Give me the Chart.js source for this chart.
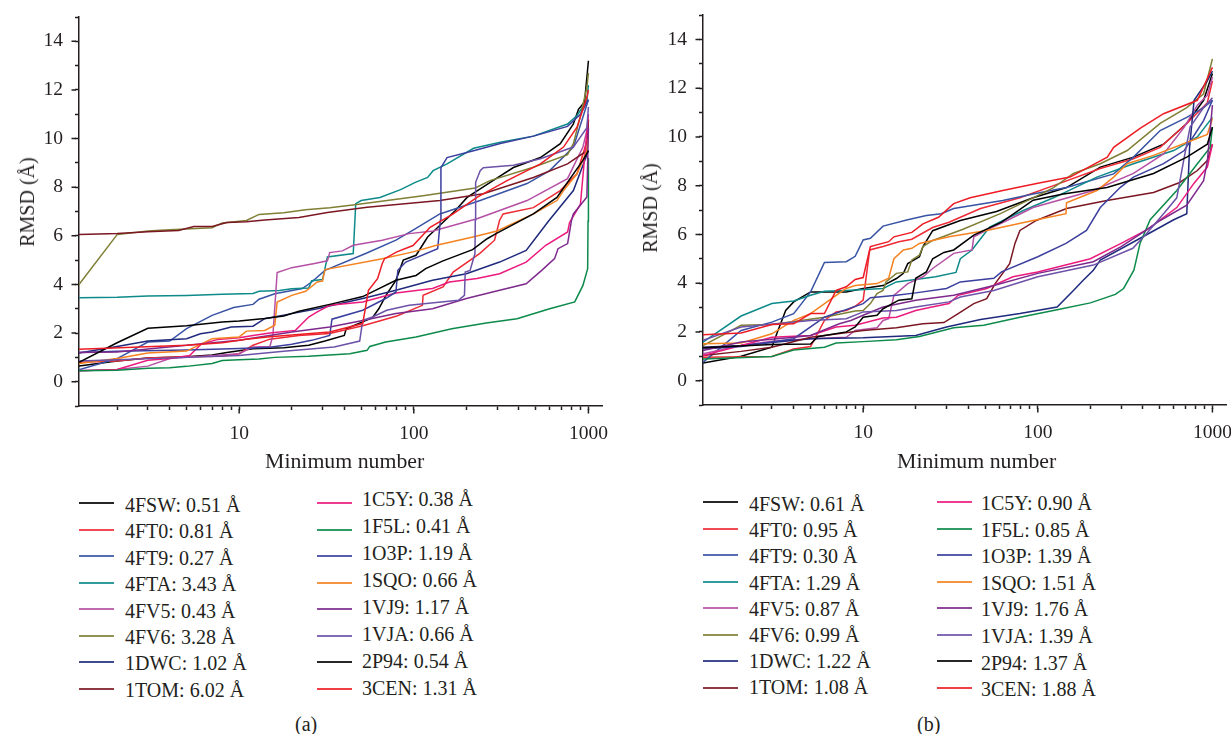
<!DOCTYPE html>
<html>
<head>
<meta charset="utf-8">
<title>RMSD vs minimum number</title>
<script src="https://cdn.jsdelivr.net/npm/chart.js@4"></script>
<style>
	html, body { margin: 0; padding: 0; background: #fff; }
	body { width: 1231px; height: 734px; overflow: hidden; position: relative; font-family: "Liberation Serif", serif; color: #231f20; }
	canvas { position: absolute; }
	.swatch { position: absolute; width: 35px; height: 2px; opacity: .85; }
	.label { position: absolute; font-size: 20px; line-height: 24px; white-space: nowrap; }
	.caption { position: absolute; font-size: 20px; line-height: 22px; }
	.xtitle { position: absolute; font-size: 21.8px; line-height: 24px; white-space: nowrap; }
	.ytitle { position: absolute; font-size: 20px; line-height: 24px; white-space: nowrap; transform: translate(-50%, -50%) rotate(-90deg); }
</style>
</head>
<body>
<canvas id="chartA" width="620" height="475" style="left:0;top:1px"></canvas>
<canvas id="chartB" width="607" height="475" style="left:624px;top:0"></canvas>
<div id="legends"></div>
<div class="xtitle" style="left:265px;top:449px">Minimum number</div>
<div class="xtitle" style="left:897px;top:449px">Minimum number</div>
<div class="ytitle" style="left:27px;top:202px">RMSD (Å)</div>
<div class="ytitle" style="left:650px;top:208px">RMSD (Å)</div>
<div class="caption" style="left:295px;top:713px">(a)</div>
<div class="caption" style="left:917px;top:713px">(b)</div>
<script>
const xTicks = [2,3,4,5,6,7,8,9,10,20,30,40,50,60,70,80,90,100,200,300,400,500,600,700,800,900,1000];
const xLabels = [10,100,1000];
const names = ["4FSW","4FT0","4FT9","4FTA","4FV5","4FV6","1DWC","1TOM","1C5Y","1F5L","1O3P","1SQO","1VJ9","1VJA","2P94","3CEN"];
const colors = ["#000000","#ee2a35","#3853a4","#0e8a8a","#b550a5","#7f7f35","#1f2a7c","#7b1722","#ec1a7d","#0c8a4a","#3b3f9e","#f58220","#7d2a8c","#6c52a8","#000000","#ed1c24"];
const rmsdA = [0.51,0.81,0.27,3.43,0.43,3.28,1.02,6.02,0.38,0.41,1.19,0.66,1.17,0.66,0.54,1.31];
const rmsdB = [0.61,0.95,0.30,1.29,0.87,0.99,1.22,1.08,0.90,0.85,1.39,1.51,1.76,1.39,1.37,1.88];

// panel (a)
const a4FSW = [[1.21,.65],[2,.85],[3,.97],[5,1.03],[7,1.1],[8.5,1.2],[12,1.35],[18,1.4],[25,1.5],[31,1.67],[40,1.9],[41,2.18],[58,2.63],[63,3],[70,3.6],[79,4.17],[87,5],[103,5.2],[120,5.95],[135,6.3],[173,7.04],[202,7.58],[284,8.27],[372,8.81],[531,9.22],[690,9.79],[820,10.6],[877,11.2],[950,11.5],[1000,13.2]];
const a4FT0 = [[1.21,.8],[2,.85],[3,.97],[5,1.03],[8,1.05],[10,1.15],[12,1.5],[15,1.75],[22,1.9],[33,1.98],[51,2.3],[80,2.7],[112,3.14],[113,3.55],[147,3.9],[168,4.51],[238,5.27],[290,5.82],[310,6.64],[325,6.9],[484,7.16],[690,7.86],[860,8.55],[980,9.9],[1000,10.8]];
const a4FT9 = [[1.21,.49],[2,.95],[3,1.63],[4,1.67],[5,2.18],[7,2.73],[9.3,3.05],[12,3.18],[13,3.39],[16,3.62],[23,3.83],[26,4.1],[31,4.58],[53,5.27],[79,5.82],[99,6.23],[141,6.9],[240,7.45],[445,8.15],[600,8.68],[820,9.65],[1000,11.6]];
const a4FTA = [[1.21,3.45],[2,3.47],[3,3.52],[5,3.55],[8,3.6],[12,3.63],[13,3.72],[17,3.75],[20,3.82],[25,3.85],[26,4.15],[30,4.2],[31,4.65],[32,5.13],[45,5.27],[46,6.64],[46.5,7.32],[50,7.45],[64,7.58],[84,7.9],[102,8.2],[120,8.4],[129,8.68],[155,8.96],[220,9.6],[313,9.85],[484,10.1],[759,10.6],[860,10.95],[980,11.56],[1000,12.2]];
const a4FV5 = [[1.21,.45],[2,.5],[3,.64],[4,.95],[5,1],[10,1.15],[12,1.43],[15,1.45],[15.6,1.9],[16.5,4.49],[20,4.69],[27,4.86],[32,4.97],[33,5.31],[39,5.38],[45,5.61],[66,5.82],[94,6.09],[129,6.2],[230,6.7],[445,7.45],[759,8.35],[930,9.65],[1000,10.6]];
const a4FV6 = [[1.21,4],[2,6.05],[3,6.2],[4,6.25],[7,6.33],[8,6.53],[11,6.63],[13,6.88],[18,6.95],[24,7.07],[33,7.15],[46,7.28],[113,7.65],[225,7.97],[273,8.27],[484,8.82],[759,9.34],[820,9.79],[895,10.87],[980,12.1],[1000,12.7]];
const a1DWC = [[1.21,1.18],[2,1.45],[3,1.67],[5,1.77],[6,1.97],[7,2.04],[9,2.25],[12,2.28],[14,2.59],[20,2.8],[28,3],[51,3.42],[79,3.76],[128,4.17],[200,4.44],[310,4.92],[440,5.4],[495,5.88],[590,6.6],[820,7.86],[1000,9.5]];
const a1TOM = [[1.21,6.05],[2,6.1],[3,6.17],[4.5,6.22],[5.5,6.38],[7,6.38],[8.5,6.55],[11,6.58],[14,6.65],[22,6.75],[32,6.96],[54,7.17],[141,7.45],[250,7.73],[484,8.4],[759,8.96],[980,9.5],[1000,10.75]];
const a1C5Y = [[1.21,.45],[2,.5],[3,.88],[4,.95],[5.2,1.08],[6.1,1.56],[7.5,1.73],[10,1.81],[12,1.9],[15,2],[21,2.11],[25,2.66],[28,2.87],[33,3.14],[51,3.28],[79,3.65],[128,3.83],[160,4.1],[230,4.24],[310,4.44],[440,4.92],[570,5.61],[760,6.16],[780,6.55],[900,7.3],[1000,11]];
const a1F5L = [[1.21,.45],[2,.47],[3,.55],[4,.57],[5,.63],[7,.75],[8,.87],[10,.9],[13,.93],[16,1],[25,1.05],[43,1.15],[54,1.29],[56,1.45],[69,1.63],[103,1.84],[165,2.18],[260,2.41],[390,2.59],[600,3],[835,3.28],[930,3.96],[990,4.65],[995,6.6],[1000,9.2]];
const a1O3P = [[1.21,1.2],[2,1.25],[5,1.3],[10,1.36],[15,1.42],[20,1.54],[26,1.7],[33,1.9],[34,2.57],[51,2.94],[69,3.42],[79,3.69],[81,4.58],[90,4.92],[137,5.47],[142,6.64],[143,8.8],[155,9.22],[220,9.5],[313,9.8],[484,10.1],[759,10.5],[900,11],[1000,11.6]];
const a1SQO = [[1.21,.75],[2,.95],[3,1.18],[5,1.26],[7,1.77],[10,1.84],[11,2.08],[14,2.11],[16,2.32],[16.5,3.28],[20,3.55],[24,3.72],[28,4.1],[30,4.14],[31,4.61],[66,5.06],[99,5.34],[135,5.61],[218,5.95],[300,6.2],[484,6.9],[660,7.45],[720,7.86],[860,8.55],[980,9.5],[1000,10.05]];
const a1VJ9 = [[1.21,1.2],[2,1.22],[5,1.5],[10,1.7],[20,2.04],[33,2.25],[51,2.52],[79,2.8],[128,3],[200,3.42],[310,3.76],[440,4.03],[540,4.58],[640,5.06],[670,5.47],[760,5.68],[800,6.64],[820,6.9],[980,7.6],[1000,10.45]];
const a1VJA = [[1.21,.85],[2,.9],[5,1],[10,1.08],[18,1.25],[35,1.43],[49,1.67],[51,2.52],[58,2.66],[70,2.94],[94,3.14],[180,3.35],[195,3.55],[197,4.51],[210,4.58],[224,5.27],[225,6.64],[226,8.2],[240,8.68],[250,8.8],[372,8.9],[531,9.17],[820,9.65],[980,10.45],[1000,11.3]];
const a2P94 = [[1.21,.8],[2,1.6],[3,2.2],[5,2.3],[8,2.45],[10,2.5],[14,2.6],[18,2.7],[22,2.9],[34,3.2],[51,3.5],[79,4.17],[103,4.37],[117,4.65],[147,4.97],[217,5.43],[263,5.88],[296,6.09],[484,6.9],[660,7.58],[930,9.1],[1000,9.5]];
const a3CEN = [[1.21,1.33],[5,1.5],[8,1.6],[11,1.75],[15,1.85],[33,2.04],[51,2.39],[55,3.76],[62,4.24],[66,4.86],[68,5.06],[80,5.34],[99,5.6],[124,6.35],[168,6.9],[230,7.58],[342,8.27],[531,8.96],[720,9.65],[860,10.47],[980,11.7],[1000,12]];

// panel (b)
const b4FSW = [[1.21,.72],[2,1],[3,1.37],[3.2,1.92],[3.6,2.88],[4,3.23],[5,3.64],[8,3.64],[10,3.78],[13,3.9],[15.5,4.19],[17,4.4],[18,4.8],[21,5.08],[22,5.5],[25,6.15],[36,6.57],[58,6.94],[94,7.5],[146,7.92],[228,8.76],[353,9.17],[525,9.7],[713,10.55],[890,11.5],[1000,12.6]];
const b4FT0 = [[1.21,.96],[3,.99],[4,1.3],[5,1.4],[6,2.47],[7,2.82],[8,2.88],[9,3.05],[10,3.3],[10.9,5.36],[13,5.5],[16,5.7],[19,5.8],[25,6.28],[31,6.5],[47,7.06],[79,7.5],[123,8],[228,8.7],[353,9.1],[502,9.57],[713,10.55],[935,11.4],[1000,12.3]];
const b4FT9 = [[1.21,.75],[2,2.06],[3,2.4],[4,2.75],[5,3.64],[6,4.85],[8,4.88],[9,5.1],[10,5.77],[11,5.84],[13,6.34],[18,6.6],[23,6.77],[28,6.85],[33,7.06],[63,7.39],[94,7.66],[146,7.92],[272,8.48],[353,9.17],[502,10.26],[713,10.8],[890,11.2],[1000,11.5]];
const b4FTA = [[1.21,1.58],[2,2.65],[3,3.16],[4,3.27],[5,3.5],[6,3.67],[8,3.7],[13,3.78],[15.5,4.05],[20,4.15],[26,4.26],[34,4.44],[36,5],[42,5.36],[48,5.9],[53,6.3],[82,6.97],[123,7.5],[218,8.35],[353,8.9],[600,9.44],[820,10],[1000,10.8]];
const b4FV5 = [[1.21,1.1],[2,1.44],[3,1.62],[5,1.72],[8,1.78],[9,2.06],[12,2.17],[13,2.47],[14,2.54],[15,3.5],[18,3.98],[22,4.26],[25,4.6],[33,5.22],[42,5.36],[43,5.9],[51,6.18],[68,6.6],[94,7.1],[208,7.8],[353,8.5],[525,9.3],[690,10.4],[820,11.3],[935,11.7],[1000,12.45]];
const b4FV6 = [[1.21,1.44],[2,2.27],[3,2.3],[6,2.6],[9,2.86],[10,2.88],[11,3.16],[12,3.57],[13,3.7],[13.5,4.05],[15.5,4.4],[18,4.46],[19,4.95],[21,5.15],[22,5.5],[25,5.75],[37,6.2],[61,6.85],[94,7.5],[123,7.92],[160,8.5],[228,8.9],[325,9.44],[502,10.55],[713,11.2],[890,11.77],[1000,13.2]];
const b1DWC = [[1.21,1.37],[2,1.44],[5,1.72],[10,1.76],[20,1.85],[30,2.2],[47,2.51],[79,2.75],[129,3.02],[160,3.7],[182,4.12],[208,4.53],[228,4.95],[370,5.77],[600,6.6],[713,6.85],[740,9.57],[785,11.5],[935,12.3],[1000,12.7]];
const b1TOM = [[1.21,1.03],[2,1.2],[3,1.37],[5,1.78],[10,2.06],[15.5,2.17],[22,2.33],[29,2.38],[35,2.75],[43,3.16],[51,3.36],[57,3.98],[69,4.8],[74,5.63],[79,6.16],[98,6.57],[146,7.06],[249,7.39],[460,7.72],[650,8.13],[820,8.62],[935,9.03],[1000,9.7]];
const b1C5Y = [[1.21,1.03],[2,1.44],[3,1.78],[5,1.85],[7,2.2],[9,2.27],[13,2.57],[15.5,2.6],[20,2.88],[24,3],[31,3.16],[35,3.5],[51,3.78],[72,4.26],[100,4.46],[200,5],[300,5.63],[420,6.18],[625,7.1],[785,8.1],[935,8.76],[1000,9.7]];
const b1F5L = [[1.21,.89],[3,.99],[4,1.26],[6,1.37],[7,1.54],[10,1.6],[15.5,1.68],[21,1.81],[33,2.17],[49,2.27],[79,2.6],[129,2.91],[200,3.19],[278,3.54],[310,3.78],[355,4.53],[385,5.63],[440,6.6],[625,7.8],[820,8.9],[970,9.57],[1000,10.4]];
const b1O3P = [[1.21,1.3],[2,1.4],[3,1.58],[4,1.72],[6,2.6],[10,3.16],[11,3.4],[15.5,3.5],[20,3.6],[30,3.78],[36,4.05],[56,4.2],[62,4.46],[100,5.08],[145,5.63],[190,6.16],[228,7.1],[296,7.92],[353,8.35],[525,8.9],[690,9.44],[890,10.67],[1000,11.5]];
const b1SQO = [[1.21,1.51],[2,1.54],[3,1.92],[4,2.47],[5,2.75],[7,3.5],[8,3.78],[9,3.9],[12,3.98],[14,4.2],[15,5],[17,5.36],[19,5.43],[21,5.63],[31,5.9],[51,6.16],[94,6.57],[145,6.85],[146,7.3],[218,7.8],[272,8.35],[325,8.9],[460,9.24],[713,9.77],[935,10.1],[1000,10.75]];
const b1VJ9 = [[1.21,1.24],[2,1.58],[4,1.78],[5,1.85],[7.3,2.33],[8.5,2.47],[10,2.68],[13,3.02],[20,3.3],[33,3.5],[56,3.9],[100,4.4],[208,4.88],[300,5.5],[420,6.18],[502,6.57],[713,7.2],[890,8.2],[935,9],[1000,11.3]];
const b1VJA = [[1.21,1.65],[2,2.2],[5,2.47],[8,2.54],[10,2.82],[15.5,2.88],[20,3.02],[31,3.23],[36,3.43],[56,3.7],[100,4.26],[208,4.74],[350,5.43],[420,6.04],[525,6.85],[625,7.5],[690,9.17],[745,10.4],[890,11.2],[1000,11.6]];
const b2P94 = [[1.21,1.35],[3,1.48],[5,1.5],[5.5,1.8],[8,2],[9,2.2],[10,2.6],[12,2.68],[13,2.95],[16,3.3],[19,3.36],[20,4.2],[23,4.46],[25,5],[29,5.26],[33,5.36],[43,5.97],[62,6.5],[73,6.85],[94,7.4],[140,7.66],[249,7.92],[460,8.5],[713,9.17],[935,9.7],[1000,10.4]];
const b3CEN = [[1.21,1.88],[2,1.95],[3,2.3],[4,2.33],[5,2.75],[6,2.75],[7,3.7],[8,3.85],[9,4.15],[10,4.23],[11,5.5],[14,5.7],[15,5.9],[19,6.08],[22,6.43],[27,6.7],[33,7.26],[41,7.5],[63,7.8],[100,8.1],[153,8.35],[250,9.17],[272,9.57],[385,10.35],[525,10.95],[820,11.5],[1000,12.85]];

const seriesA = [a4FSW,a4FT0,a4FT9,a4FTA,a4FV5,a4FV6,a1DWC,a1TOM,a1C5Y,a1F5L,a1O3P,a1SQO,a1VJ9,a1VJA,a2P94,a3CEN];
const seriesB = [b4FSW,b4FT0,b4FT9,b4FTA,b4FV5,b4FV6,b1DWC,b1TOM,b1C5Y,b1F5L,b1O3P,b1SQO,b1VJ9,b1VJA,b2P94,b3CEN];

const axisColor = "#231f20";
const serif = "'Liberation Serif', serif";

// longer marks on the labelled ticks, chart.js has a single tickLength per axis
const longTicks = {
	id: "longTicks",
	afterDraw: function(chart){
		const ctx = chart.ctx;
		const x = chart.scales.x, y = chart.scales.y;
		ctx.save();
		ctx.strokeStyle = axisColor;
		ctx.lineWidth = 1.5;
		ctx.beginPath();
		xLabels.forEach(function(v){
			const p = x.getPixelForValue(v);
			ctx.moveTo(p, x.top + 3);
			ctx.lineTo(p, x.top + 7.5);
		});
		y.ticks.forEach(function(t){
			if(t.value % 2 === 0){
				const p = y.getPixelForValue(t.value);
				ctx.moveTo(y.right - 3, p);
				ctx.lineTo(y.right - 7.5, p);
			}
		});
		ctx.stroke();
		ctx.restore();
	}
};

function makeChart(id, series, paddingTop, paddingRight){
	new Chart(document.getElementById(id), {
		type: "line",
		data: {
			datasets: series.map(function(points, i){
				return {
					label: names[i],
					data: points,
					borderColor: colors[i],
					borderWidth: 1.5,
					pointRadius: 0,
					tension: 0,
					order: series.length - i
				};
			})
		},
		options: {
			responsive: false,
			animation: false,
			layout: { padding: { top: paddingTop, right: paddingRight, left: 0, bottom: 0 } },
			plugins: { legend: false, tooltip: { enabled: false } },
			scales: {
				x: {
					type: "logarithmic",
					min: 1.21,
					max: 1196,
					afterBuildTicks: function(scale){
						scale.ticks = xTicks.map(function(v){ return { value: v }; });
					},
					afterFit: function(scale){
						scale.height = 70;
						scale.paddingLeft = 0;
						scale.paddingRight = 0;
					},
					border: { color: axisColor, width: 1.5 },
					grid: { drawOnChartArea: false, tickLength: 4, tickColor: axisColor, tickWidth: 1.5 },
					ticks: {
						autoSkip: false,
						maxRotation: 0,
						padding: 12,
						color: axisColor,
						font: { family: serif, size: 19.5 },
						callback: function(v){ return xLabels.indexOf(v) >= 0 ? String(v) : ""; }
					}
				},
				y: {
					min: -1,
					max: 15,
					afterFit: function(scale){
						scale.width = 79;
						scale.paddingTop = 0;
						scale.paddingBottom = 0;
					},
					border: { color: axisColor, width: 1.5 },
					grid: { drawOnChartArea: false, tickLength: 4, tickColor: axisColor, tickWidth: 1.5 },
					ticks: {
						stepSize: 1,
						autoSkip: false,
						padding: 12,
						color: axisColor,
						font: { family: serif, size: 19.5 },
						callback: function(v){ return v % 2 === 0 ? String(v) : ""; }
					}
				}
			}
		},
		plugins: [longTicks]
	});
}

makeChart("chartA", seriesA, 16, 18);
makeChart("chartB", seriesB, 15, 5);

function makeLegend(values, columns){
	const box = document.getElementById("legends");
	names.forEach(function(name, i){
		const col = i < 8 ? columns[0] : columns[1];
		const row = i % 8;
		const line = document.createElement("div");
		line.className = "swatch";
		line.style.left = col.line + "px";
		line.style.top = Math.round(col.lineTop + row * 26.57) + "px";
		line.style.background = colors[i];
		box.appendChild(line);
		const text = document.createElement("div");
		text.className = "label";
		text.textContent = name + ": " + values[i].toFixed(2) + " Å";
		text.style.left = col.text + "px";
		text.style.top = (col.top + row * col.step) + "px";
		box.appendChild(text);
	});
}

makeLegend(rmsdA, [{ line: 79, lineTop: 502, text: 125, top: 493, step: 26.4 }, { line: 317, lineTop: 502, text: 362, top: 486.5, step: 27.1 }]);
makeLegend(rmsdB, [{ line: 703, lineTop: 501, text: 749, top: 492, step: 26.2 }, { line: 937, lineTop: 501, text: 981, top: 491, step: 26.6 }]);
</script>
</body>
</html>
